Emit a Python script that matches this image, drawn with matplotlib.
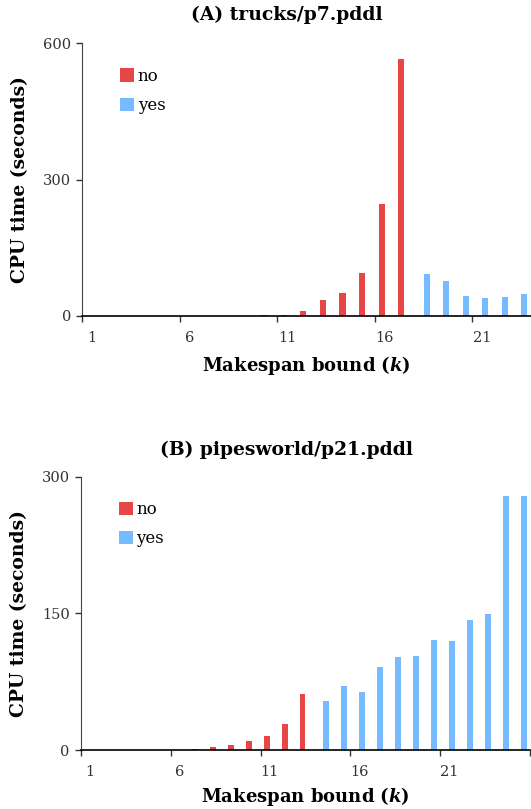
import matplotlib.pyplot as plt
import numpy as np

# CPU time per makespan bound, split by result (no = unsatisfiable, yes = plan found)
trucks_k = list(range(1, 24))
trucks_no = [0, 0, 0, 0, 0, 0, 0, 0, 0, 2, 2, 11, 35, 51, 94, 246, 565,
             0, 0, 0, 0, 0, 0]
trucks_yes = [0] * 17 + [92, 77, 44, 40, 42, 48]

pipes_k = list(range(1, 26))
pipes_no = [0, 0, 0, 0, 0, 0.4, 1, 3.3, 5.5, 10, 15.7, 28.5, 61] + [0] * 12
pipes_yes = [0] * 13 + [53.7, 70, 63.5, 91, 102, 103, 120.6, 119.5,
                        142.5, 149, 278.5, 278.5]

red = '#E74646'
blue = '#76BAFF'

plt.rcParams['font.family'] = ['DejaVu Serif']
plt.rcParams['mathtext.fontset'] = 'dejavuserif'
plt.rcParams['mathtext.bf'] = 'DejaVu Serif:italic:bold'

fig = plt.figure(figsize=(5.31, 8.09), dpi=100)
ax1 = fig.add_axes([0.1544, 0.6094, 0.8456, 0.3371])
ax2 = fig.add_axes([0.1525, 0.0729, 0.8456, 0.3381])


def draw(ax, ks, no, yes, ymax, title, title_y, leg_y, xpad):
    ks = np.array(ks)
    w = 0.31
    ax.bar(ks - w / 2, no, width=w, color=red, label='no')
    ax.bar(ks + w / 2, yes, width=w, color=blue, label='yes')
    n = len(ks)
    ax.set_xlim(0.5, n + 0.5)
    ax.set_ylim(0, ymax)
    ax.set_yticks([0, ymax / 2, ymax])
    ax.set_yticklabels([str(int(v)) for v in [0, ymax / 2, ymax]])
    # tick marks sit on category boundaries, labels under the categories
    ax.set_xticks(np.arange(0.5, n + 1, 5))
    ax.set_xticklabels([])
    ax.set_xticks(np.arange(1, n + 1, 5), minor=True)
    ax.set_xticklabels([str(v) for v in range(1, n + 1, 5)], minor=True)
    ax.tick_params(axis='x', which='major', length=4, width=1, color='#333333')
    ax.tick_params(axis='x', which='minor', length=0, pad=11,
                   labelsize=10.5, labelcolor='#333333')
    ax.tick_params(axis='y', length=4, width=1, color='#333333', pad=4,
                   labelsize=10.5, labelcolor='#333333')
    for s in ['top', 'right']:
        ax.spines[s].set_visible(False)
    ax.spines['left'].set_color('#444444')
    ax.spines['bottom'].set_color('black')
    ax.spines['bottom'].set_linewidth(1.2)
    ax.set_ylabel('CPU time (seconds)', fontsize=13.5, fontweight='bold', labelpad=10)
    ax.set_xlabel(r'Makespan bound ($\boldsymbol{k}$)', fontsize=13,
                  fontweight='bold', labelpad=xpad)
    fig.text(287 / 531, title_y, title, ha='center', va='center',
             fontsize=13.5, fontweight='bold')
    ax.legend(loc='upper left', bbox_to_anchor=(0.07, leg_y), frameon=False,
              fontsize=12, handlelength=0.85, handleheight=0.85,
              handletextpad=0.2, labelspacing=0.75, borderaxespad=0)


draw(ax1, trucks_k, trucks_no, trucks_yes, 600, '(A) trucks/p7.pddl',
     1 - 15 / 809, 0.935, 6)
draw(ax2, pipes_k, pipes_no, pipes_yes, 300, '(B) pipesworld/p21.pddl',
     1 - 450 / 809, 0.935, 4)

fig.savefig('out.png', dpi=100)
